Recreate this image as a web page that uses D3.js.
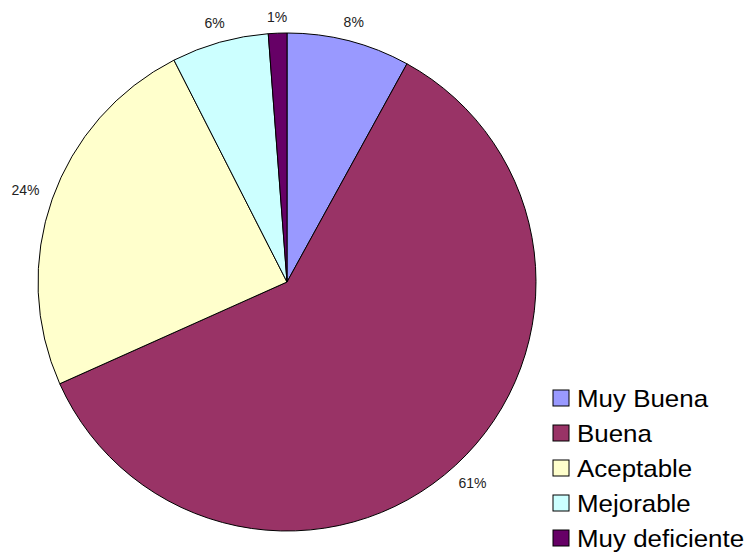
<!DOCTYPE html>
<html>
<head>
<meta charset="utf-8">
<script src="https://cdn.jsdelivr.net/npm/d3@7"></script>
<style>
  body { margin: 0; background: #fff; }
  svg { display: block; font-family: "Liberation Sans", Arial, sans-serif; }
</style>
</head>
<body>
<svg id="chart" width="750" height="553"></svg>
<script>
// categories and shares
const categories = ["Muy Buena", "Buena", "Aceptable", "Mejorable", "Muy deficiente"];
const values = [8.0, 60.3, 24.2, 6.3, 1.2];
const labels = ["8%", "61%", "24%", "6%", "1%"];
const colors = ["#9999FF", "#993366", "#FFFFCC", "#CCFFFF", "#660066"];

const svg = d3.select("#chart");

const cx = 287, cy = 282, r = 249;

const data = categories.map((c, i) => ({ name: c, value: values[i], label: labels[i], color: colors[i] }));

const pie = d3.pie().value(d => d.value).sort(null);
const arc = d3.arc().innerRadius(0).outerRadius(r);

const g = svg.append("g").attr("transform", `translate(${cx},${cy})`);

const arcs = pie(data);

g.selectAll("path.slice")
  .data(arcs)
  .join("path")
  .attr("class", "slice")
  .attr("d", arc)
  .attr("fill", d => d.data.color)
  .attr("stroke", "#000")
  .attr("stroke-width", 1);

// Labels outside the rim, a bit further out on the sides for wider text
g.selectAll("text.lbl")
  .data(arcs)
  .join("text")
  .attr("class", "lbl")
  .attr("font-size", 14)
  .attr("fill", "#222")
  .attr("text-anchor", "middle")
  .attr("dominant-baseline", "central")
  .attr("transform", d => {
    const a = (d.startAngle + d.endAngle) / 2;
    const rr = r + 16 + Math.abs(Math.sin(a)) * 13;
    return `translate(${Math.sin(a) * rr},${-Math.cos(a) * rr})`;
  })
  .text(d => d.data.label);

// Legend
const legend = svg.append("g").attr("transform", "translate(553,390)");
const rowH = 35;
const items = legend.selectAll("g.item")
  .data(data)
  .join("g")
  .attr("class", "item")
  .attr("transform", (d, i) => `translate(0,${i * rowH})`);

items.append("rect")
  .attr("width", 16)
  .attr("height", 16)
  .attr("fill", d => d.color)
  .attr("stroke", "#000")
  .attr("stroke-width", 1);

items.append("text")
  .attr("transform", "translate(24,17) scale(1.08,1)")
  .attr("font-size", 24)
  .attr("fill", "#000")
  .text(d => d.name);
</script>
</body>
</html>
